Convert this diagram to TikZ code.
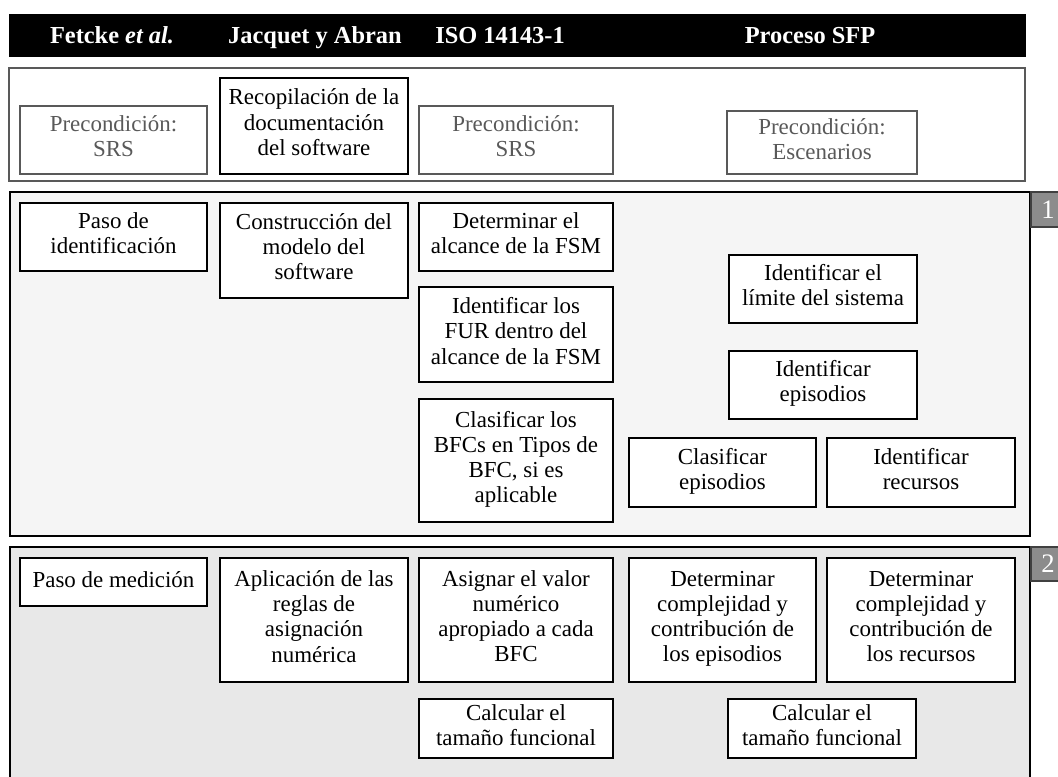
\documentclass[tikz,border=0pt]{standalone}
\usepackage{fontspec}
\setmainfont{Liberation Serif}
\usepackage{tikz}
\usepackage{xcolor}
\usetikzlibrary{positioning, calc}

\begin{document}
\begin{tikzpicture}[x=0.75pt, y=-0.75pt,
    stepbox/.style={draw, line width=1.1pt, fill=white, align=center, inner sep=0pt,
      font=\fontsize{17.2}{18.9}\selectfont,
      execute at begin node=\strut, execute at end node=\strut},
    prebox/.style={stepbox, draw=black!65, line width=0.9pt, text=black!65},
    sz/.style 2 args={minimum width=#1*0.75pt, minimum height=#2*0.75pt},
    head/.style={text=white, anchor=base, font=\fontsize{18.3}{20}\selectfont\bfseries},
    tab/.style={draw=black!75, line width=0.8pt, fill=black!45, text=white, inner sep=0pt,
      font=\fontsize{20}{20}\selectfont},
  ]
  \useasboundingbox (0,0) rectangle (1058,776);

  % Header bar
  \fill[black] (9,14) rectangle (1026,57);
  \node[head] (hfet) at (112,43) {Fetcke \textit{et al.}};
  \node[head] (hjac) at (315,43) {Jacquet y Abran};
  \node[head] (hiso) at (500,43) {ISO 14143-1};
  \node[head] (hsfp) at (810,43) {Proceso SFP};

  % Panels
  \draw[draw=black!65, line width=0.8pt, fill=white] (9,68) rectangle (1025,181);
  \draw[line width=1.8pt, fill=black!4] (10,192) rectangle (1030,536);
  \draw[line width=1.8pt, fill=black!9] (10,790) |- (1030,547) -- (1030,790);
  \node[tab, sz={34}{35}] (tab1) at (1048,209.5) {1};
  \node[tab, sz={34}{34}] (tab2) at (1048,564) {2};

  % Preconditions
  \node[prebox, sz={187}{68}] (pre1) at (113.5,140) {Precondición:\\SRS};
  \node[stepbox, sz={188}{96}] (recop) at (314,126) {Recopilación de la\\documentación\\del software};
  \node[prebox, sz={194}{68}] (pre3) at (516,140) {Precondición:\\SRS};
  \node[prebox, sz={190}{63}] (preesc) at (822,142.5) {Precondición:\\Escenarios};

  % Identification step
  \node[stepbox, sz={187}{68}] (pasoid) at (113.5,237) {Paso de\\identificación};
  \node[stepbox, sz={188}{95}] (constr) at (314,250.5) {Construcción del\\modelo del\\software};
  \node[stepbox, sz={194}{68}] (alcance) at (516,237) {Determinar el\\alcance de la FSM};
  \node[stepbox, sz={194}{95}] (fur) at (516,334.5) {Identificar los\\FUR dentro del\\alcance de la FSM};
  \node[stepbox, sz={194}{123}] (clasbfc) at (516,460.5) {Clasificar los\\BFCs en Tipos de\\BFC, si es\\aplicable};
  \node[stepbox, sz={188}{68}] (limite) at (823,289) {Identificar el\\límite del sistema};
  \node[stepbox, sz={188}{68}] (idepi) at (823,385) {Identificar\\episodios};
  \node[stepbox, sz={187}{69}] (clasepi) at (722.5,472.5) {Clasificar\\episodios};
  \node[stepbox, sz={188}{69}] (idrec) at (921,472.5) {Identificar\\recursos};

  % Measurement step
  \node[stepbox, sz={187}{48}] (pasomed) at (113.5,582) {Paso de medición};
  \node[stepbox, sz={188}{124}] (aplic) at (314,620) {Aplicación de las\\reglas de\\asignación\\numérica};
  \node[stepbox, sz={194}{124}] (asign) at (516,620) {Asignar el valor\\numérico\\apropiado a cada\\BFC};
  \node[stepbox, sz={187}{124}] (detepi) at (722.5,620) {Determinar\\complejidad y\\contribución de\\los episodios};
  \node[stepbox, sz={188}{124}] (detrec) at (921,620) {Determinar\\complejidad y\\contribución de\\los recursos};
  \node[stepbox, sz={194}{59}] (calciso) at (516,728.5) {Calcular el\\tamaño funcional};
  \node[stepbox, sz={188}{59}] (calcsfp) at (822,728.5) {Calcular el\\tamaño funcional};
\end{tikzpicture}
\end{document}
